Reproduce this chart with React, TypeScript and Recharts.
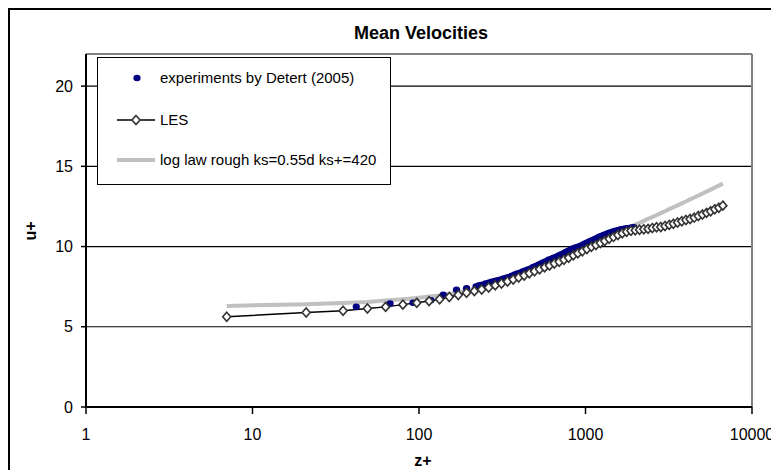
import React from 'react';
import { ComposedChart, Line, Scatter, XAxis, YAxis, CartesianGrid, ReferenceLine } from 'recharts';

// ---- data ----
const lesZ = [7, 21, 35, 49, 63, 80, 97, 115, 133, 152, 172, 193, 215, 238, 262, 287, 313, 340, 368, 397, 428, 460, 494, 530, 568, 608, 650, 695, 742, 792, 845, 900, 958, 1020, 1085, 1155, 1228, 1305, 1387, 1474, 1566, 1663, 1766, 1875, 1990, 2112, 2240, 2376, 2520, 2672, 2833, 3003, 3183, 3373, 3574, 3786, 4010, 4247, 4497, 4761, 5040, 5335, 5646, 5975, 6320, 6680];
const lesU = [5.62, 5.89, 6.0, 6.14, 6.24, 6.38, 6.49, 6.6, 6.72, 6.86, 6.98, 7.12, 7.22, 7.32, 7.45, 7.58, 7.7, 7.82, 7.95, 8.07, 8.2, 8.33, 8.46, 8.58, 8.7, 8.82, 8.94, 9.05, 9.18, 9.3, 9.45, 9.58, 9.71, 9.85, 9.98, 10.1, 10.22, 10.35, 10.48, 10.6, 10.72, 10.83, 10.92, 10.98, 11.02, 11.05, 11.08, 11.1, 11.15, 11.2, 11.22, 11.28, 11.35, 11.42, 11.5, 11.58, 11.65, 11.72, 11.8, 11.9, 12.0, 12.1, 12.2, 12.32, 12.42, 12.55];
const logLawU = [6.3, 6.4, 6.48, 6.55, 6.63, 6.72, 6.8, 6.88, 6.95, 7.05, 7.15, 7.25, 7.37, 7.48, 7.6, 7.72, 7.84, 7.96, 8.1, 8.23, 8.36, 8.48, 8.62, 8.76, 8.9, 9.04, 9.18, 9.32, 9.46, 9.6, 9.74, 9.87, 10.0, 10.12, 10.24, 10.36, 10.47, 10.59, 10.7, 10.81, 10.93, 11.04, 11.15, 11.26, 11.37, 11.48, 11.6, 11.72, 11.84, 11.96, 12.08, 12.2, 12.33, 12.45, 12.57, 12.69, 12.81, 12.94, 13.06, 13.18, 13.3, 13.43, 13.55, 13.68, 13.8, 13.92];
const expZ = [42, 67, 92, 118, 140, 168, 193, 220, 230, 240, 251, 262, 273, 285, 297, 310, 322, 335, 348, 362, 376, 390, 405, 420, 436, 452, 469, 486, 504, 522, 541, 560, 580, 600, 621, 642, 664, 687, 711, 735, 760, 785, 811, 838, 865, 893, 921, 950, 980, 1010, 1041, 1073, 1106, 1140, 1175, 1210, 1247, 1285, 1325, 1365, 1407, 1450, 1495, 1540, 1587, 1635, 1685, 1735, 1787, 1840, 1895, 1950];
const expU = [6.25, 6.45, 6.5, 6.65, 7.0, 7.3, 7.4, 7.5, 7.58, 7.62, 7.7, 7.74, 7.8, 7.85, 7.9, 7.95, 8.0, 8.05, 8.1, 8.18, 8.25, 8.32, 8.36, 8.44, 8.5, 8.57, 8.63, 8.72, 8.78, 8.87, 8.94, 9.02, 9.08, 9.17, 9.22, 9.3, 9.35, 9.42, 9.5, 9.57, 9.65, 9.72, 9.8, 9.87, 9.92, 9.97, 10.02, 10.08, 10.15, 10.22, 10.28, 10.34, 10.4, 10.47, 10.53, 10.6, 10.66, 10.72, 10.77, 10.82, 10.87, 10.92, 10.96, 11.0, 11.03, 11.07, 11.09, 11.12, 11.14, 11.16, 11.18, 11.2];
const xTicks = [1, 10, 100, 1000, 10000];
const yTicks = [0, 5, 10, 15, 20];

const title = 'Mean Velocities';
const xLabel = 'z+';
const yLabel = 'u+';
const legendExp = 'experiments by Detert (2005)';
const legendLes = 'LES';
const legendLog = 'log law rough ks=0.55d ks+=420';

const lesData = lesZ.map((z, i) => ({ z, u: lesU[i] }));
const logData = lesZ.map((z, i) => ({ z, u: logLawU[i] }));
const expData = expZ.map((z, i) => ({ z, u: expU[i] }));

const FONT = '"Liberation Sans", Arial, sans-serif';

const Diamond = (props: any) => {
  const { cx, cy, index } = props;
  if (cx == null || cy == null) return <g key={`d${index}`} />;
  return (
    <path
      key={`d${index}`}
      d={`M${cx},${cy - 4.5} L${cx + 4},${cy} L${cx},${cy + 4.5} L${cx - 4},${cy} Z`}
      fill="#ffffff"
      stroke="#333333"
      strokeWidth={1.6}
    />
  );
};

const Dot = (props: any) => {
  const { cx, cy } = props;
  if (cx == null || cy == null) return <g />;
  return <ellipse cx={cx} cy={cy} rx={3.6} ry={3.3} fill="#000080" />;
};

export default function App() {
  return (
    <div style={{ position: 'relative', width: 771, height: 462, overflow: 'hidden', fontFamily: FONT, background: '#fff' }}>
      <div style={{ position: 'absolute', left: 0, top: 0, width: 2, height: 462, background: '#000' }} />
      <div style={{ position: 'absolute', left: 0, top: 0, width: 771, height: 2, background: '#000' }} />
      <div style={{ position: 'absolute', left: 0, top: 14, width: 826, textAlign: 'center', fontSize: 18, fontWeight: 'bold', lineHeight: '22px' }}>{title}</div>
      <ComposedChart
        width={771}
        height={462}
        margin={{ top: 46, right: 27, bottom: 0, left: 0 }}
        style={{ position: 'absolute', left: 0, top: 0, fontFamily: FONT }}
      >
        <CartesianGrid horizontal={true} vertical={false} stroke="#000" strokeWidth={1.2} />
        <XAxis
          type="number"
          dataKey="z"
          scale="log"
          domain={[1, 10000]}
          ticks={xTicks}
          allowDataOverflow
          height={63}
          axisLine={{ stroke: '#000', strokeWidth: 2 }}
          tickLine={{ stroke: '#000', strokeWidth: 1.5 }}
          tickSize={7}
          tickMargin={15}
          tick={{ fill: '#000', fontSize: 16, fontFamily: FONT }}
        />
        <YAxis
          type="number"
          dataKey="u"
          domain={[0, 22]}
          ticks={yTicks}
          allowDataOverflow
          width={78}
          axisLine={{ stroke: '#000', strokeWidth: 2 }}
          tickLine={{ stroke: '#000', strokeWidth: 1.5 }}
          tickSize={5}
          tickMargin={8}
          tick={{ fill: '#000', fontSize: 16, fontFamily: FONT }}
        />
        <ReferenceLine y={22} stroke="#808080" strokeWidth={2} />
        <ReferenceLine x={10000} stroke="#808080" strokeWidth={2} />
        <Line
          data={logData}
          dataKey="u"
          stroke="#c0c0c0"
          strokeWidth={4}
          dot={false}
          isAnimationActive={false}
          type="linear"
        />
        <Scatter data={expData} dataKey="u" shape={<Dot />} isAnimationActive={false} />
        <Line
          data={lesData}
          dataKey="u"
          stroke="#000"
          strokeWidth={1.5}
          dot={<Diamond />}
          isAnimationActive={false}
          type="linear"
        />
      </ComposedChart>
      <div style={{ position: 'absolute', left: 89, top: 49, width: 292, height: 126, border: '1px solid #000', background: '#fff' }}>
        <svg width={292} height={126} style={{ position: 'absolute', left: 0, top: 0 }}>
          <ellipse cx={39} cy={20} rx={3.6} ry={3.3} fill="#000080" />
          <line x1={19} y1={62} x2={57} y2={62} stroke="#000" strokeWidth={1.5} />
          <path d="M38,57.5 L42,62 L38,66.5 L34,62 Z" fill="#fff" stroke="#333" strokeWidth={1.6} />
          <line x1={19} y1={102} x2={57} y2={102} stroke="#c0c0c0" strokeWidth={4} />
        </svg>
        <div style={{ position: 'absolute', left: 62, top: 11, fontSize: 15, lineHeight: '18px', whiteSpace: 'nowrap' }}>{legendExp}</div>
        <div style={{ position: 'absolute', left: 62, top: 53, fontSize: 15, lineHeight: '18px', whiteSpace: 'nowrap' }}>{legendLes}</div>
        <div style={{ position: 'absolute', left: 62, top: 93, fontSize: 15, lineHeight: '18px', whiteSpace: 'nowrap' }}>{legendLog}</div>
      </div>
      <div style={{ position: 'absolute', left: 365, top: 443, width: 100, textAlign: 'center', fontSize: 16, fontWeight: 'bold', lineHeight: '20px' }}>{xLabel}</div>
      <div style={{ position: 'absolute', left: -27, top: 213, width: 100, textAlign: 'center', fontSize: 16, fontWeight: 'bold', lineHeight: '20px', transform: 'rotate(-90deg)' }}>{yLabel}</div>
    </div>
  );
}
